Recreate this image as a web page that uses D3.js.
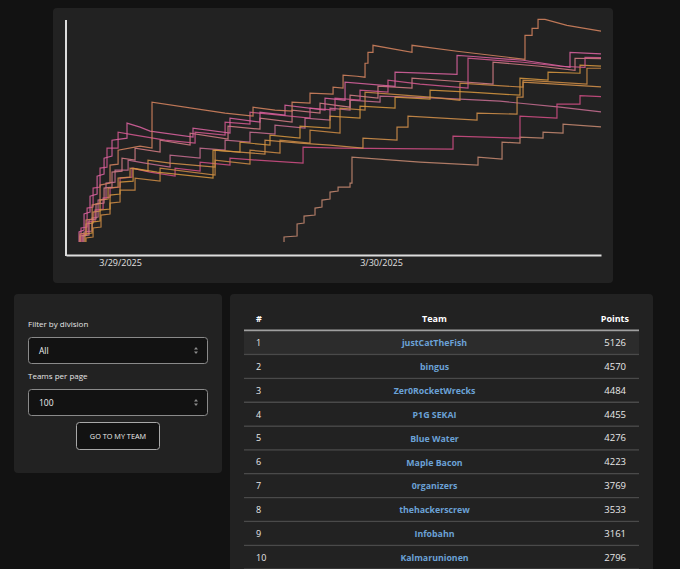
<!DOCTYPE html>
<html>
<head>
<meta charset="utf-8">
<script src="https://cdn.jsdelivr.net/npm/d3@7"></script>
<style>
  body { margin: 0; background: #121212; font-family: "Open Sans", sans-serif; }
  svg { display: block; }
</style>
</head>
<body>
<svg id="page" width="680" height="569"></svg>
<script>
// scoreboard data, hours are counted from 3/29 00:00, scores in points
var teams = ["justCatTheFish", "bingus", "Zer0RocketWrecks", "P1G SEKAI", "Blue Water",
  "Maple Bacon", "0rganizers", "thehackerscrew", "Infobahn", "Kalmarunionen"];
var points = [5126, 4570, 4484, 4455, 4276, 4223, 3769, 3533, 3161, 2796];
var teamColors = ["#d4835f", "#d8629e", "#d2588e", "#d27c84", "#d4953f",
  "#cb8a44", "#d28f4a", "#cf4d84", "#c46c8f", "#c4876f"];
var dayTicks = [0, 24];
var ctfStart = -4.97, ctfEnd = 44.23;

var jctf = [[-3.68,0],[-3.68,194],[-3.13,218],[-3.13,534],[-2.57,558],[-2.57,898],[-1.84,947],[-1.84,1383],
  [-0.92,1432],[-0.92,1869],[-0.18,1893],[-0.18,2233],[1.84,2330],[2.94,2281],[2.94,3398],[9.66,3131],
  [12.23,3058],[12.23,3276],[14.25,3204],[15.82,3180],[15.82,3398],[17.47,3374],[17.47,3616],[19.59,3592],
  [19.59,3762],[20.51,3738],[20.51,4053],[21.79,4029],[22.53,4005],[22.53,4344],[22.80,4344],[22.80,4611],
  [23.26,4611],[23.26,4781],[26.85,4611],[26.85,4781],[30.99,4636],[37.24,4441],[37.24,5024],[37.89,5024],
  [37.89,5194],[38.44,5194],[38.44,5412],[39.08,5412],[41.10,5266],[44.23,5126]];
var bingus = [[-3.77,0],[-3.77,243],[-3.31,291],[-3.31,680],[-2.76,728],[-2.76,1116],[-2.11,1165],[-2.11,1602],
  [-1.47,1650],[-1.47,2039],[-0.74,2087],[-0.74,2475],[0,2500],[0.64,2524],[0.64,2888],[1.84,2791],
  [2.76,2694],[6.71,2548],[6.71,2767],[10.11,2645],[10.11,3009],[12.87,2912],[12.87,3155],[15.17,3082],
  [15.17,3325],[18.85,3204],[18.85,3495],[20.69,3446],[20.69,3883],[25.29,3786],[25.29,4126],[30.99,4077],
  [30.99,4538],[32.18,4514],[37.06,4417],[41.38,4247],[41.38,4610],[44.23,4570]];
var zer0 = [[-3.59,0],[-3.59,340],[-3.03,364],[-3.03,825],[-2.48,849],[-2.48,1311],[-1.84,1335],[-1.84,1796],
  [-1.20,1820],[-1.20,2281],[-0.18,2281],[-0.18,2670],[1.38,2597],[4.14,2475],[6.90,2403],[6.90,2670],
  [9.66,2597],[9.66,2912],[11.95,2864],[11.95,3155],[17.47,3009],[17.47,3252],[19.77,3204],[19.77,3495],
  [22.07,3446],[22.07,3689],[24.64,3641],[24.64,3932],[27.59,3835],[32.00,3738],[32.00,4466],[37.06,4369],
  [40.46,4272],[42.76,4247],[42.76,4490],[44.23,4484]];
var p1g = [[-3.40,0],[-3.40,146],[-2.85,170],[-2.85,534],[-2.21,558],[-2.21,922],[-1.47,947],[-1.47,1311],
  [-0.74,1335],[-0.74,1699],[0.18,1723],[0.18,2039],[1.38,1990],[1.38,2281],[3.68,2184],[3.68,2475],
  [6.44,2354],[6.44,2645],[9.93,2500],[9.93,2815],[12.87,2742],[12.87,3009],[15.82,2912],[15.82,3204],
  [18.39,3131],[18.39,3374],[21.15,3276],[21.15,3568],[23.72,3495],[23.72,3786],[26.85,3738],[26.85,3980],
  [30.80,3907],[34.30,3835],[34.30,4369],[38.62,4272],[41.84,4174],[41.84,4466],[44.23,4455]];
var blueWater = [[-3.22,0],[-3.22,194],[-2.57,218],[-2.57,485],[-1.84,510],[-1.84,777],[-0.92,801],[-0.92,1141],
  [0,1165],[0,1456],[1.20,1480],[1.20,1796],[3.40,1699],[8.55,1553],[8.55,2233],[11.03,2184],
  [11.03,2427],[13.79,2354],[13.79,2597],[16.55,2524],[16.55,2815],[19.31,2767],[19.31,3058],[22.07,3009],
  [22.07,3301],[25.29,3252],[25.29,3519],[28.51,3471],[28.51,3689],[32.18,3641],[36.78,3568],[36.78,3980],
  [39.36,3932],[39.36,4126],[42.30,4102],[42.30,4296],[44.23,4276]];
var mapleBacon = [[-3.13,0],[-3.13,97],[-2.48,121],[-2.48,340],[-1.75,364],[-1.75,655],[-0.92,680],[-0.92,947],
  [0,971],[0,1262],[1.38,1262],[1.38,1553],[3.68,1481],[3.68,1796],[8.74,1626],[8.74,1990],
  [11.95,1893],[11.95,2233],[14.71,2160],[14.71,2475],[17.47,2403],[17.47,2718],[20.23,2645],[20.23,3252],
  [22.53,3204],[22.53,3641],[28.51,3519],[31.26,3446],[31.26,3859],[37.06,3762],[37.06,3932],[42.94,3835],
  [42.94,4223],[44.23,4223]];
var organizers = [[-3.68,0],[-3.68,146],[-3.13,170],[-3.13,437],[-2.48,461],[-2.48,728],[-1.84,752],[-1.84,1019],
  [-1.10,1044],[-1.10,1311],[-0.18,1335],[-0.18,1553],[0.92,1578],[0.92,1796],[2.57,1723],[2.57,1990],
  [4.60,1917],[8.74,1820],[8.74,2233],[11.03,2184],[13.33,2136],[13.33,2475],[16.55,2403],[19.31,2354],
  [22.34,2281],[22.34,2524],[25.47,2475],[25.47,2791],[26.48,2791],[26.48,3058],[32.83,2961],[32.83,3131],
  [36.51,3107],[36.51,3519],[37.06,3519],[37.06,3883],[44.23,3769]];
var hackersCrew = [[-3.49,0],[-3.49,170],[-2.94,194],[-2.94,485],[-2.30,510],[-2.30,777],[-1.56,801],[-1.56,1068],
  [-0.92,1092],[-0.92,1311],[0,1335],[0,1553],[1.10,1578],[1.10,1796],[2.76,1699],[5.06,1602],
  [5.06,1796],[7.36,1723],[7.36,1942],[10.11,1869],[10.11,2039],[12.60,1990],[16.83,1917],[16.83,2306],
  [20.23,2281],[30.62,2257],[30.62,2573],[36.78,2524],[36.78,3058],[40.18,3009],[40.18,3349],[42.30,3349],
  [42.30,3560],[44.23,3533]];
var infobahn = [[-3.31,0],[-3.31,243],[-2.57,267],[-2.57,582],[-2.02,607],[-2.02,1019],[-1.29,1044],[-1.29,1432],
  [-0.46,1456],[-0.46,1747],[0.74,1747],[0.74,1990],[2.30,1917],[4.60,1820],[4.60,2111],[7.36,2039],
  [7.36,2281],[9.66,2233],[9.66,2475],[11.95,2427],[11.95,2670],[14.25,2621],[14.25,2840],[17.01,2767],
  [17.01,3009],[19.31,2961],[19.31,3252],[21.15,3204],[21.15,3446],[23.91,3398],[23.91,3543],[29.43,3495],
  [34.94,3422],[40.46,3276],[44.23,3161]];
var kalmar = [[15.08,0],[15.08,121],[16.28,146],[16.28,437],[16.92,461],[16.92,631],[17.93,655],[17.93,825],
  [18.57,849],[18.57,1019],[19.31,1044],[19.31,1214],[20.05,1238],[20.05,1335],[21.15,1335],[21.15,1432],
  [21.33,1432],[21.33,2063],[27.59,1942],[32.92,1869],[32.92,2063],[35.13,2014],[35.13,2427],[36.78,2403],
  [36.78,2548],[38.90,2524],[38.90,2670],[40.74,2645],[40.74,2864],[44.23,2796]];
var series = [jctf, bingus, zer0, p1g, blueWater, mapleBacon, organizers, hackersCrew, infobahn, kalmar];

var divisions = ["All"];
var pageSizes = ["100"];

var svg = d3.select("#page");
var baseDay = new Date(2025, 2, 29);
function hour(h) { return new Date(baseDay.getTime() + h * 3600e3); }

// ---- graph card ----
svg.append("rect").attr("x", 53).attr("y", 8).attr("width", 560).attr("height", 275)
  .attr("rx", 4).attr("fill", "#222");

var x = d3.scaleTime().domain([hour(ctfStart), hour(ctfEnd)]).range([66, 601]);
var y = d3.scaleLinear().domain([0, 5420]).range([242, 19]);

var line = d3.line()
  .x(function (d) { return x(hour(d[0])); })
  .y(function (d) { return y(d[1]); });

var order = d3.range(series.length).reverse();
svg.append("g")
  .selectAll("path")
  .data(order)
  .enter()
  .append("path")
  .attr("d", function (i) { return line(series[i]); })
  .attr("fill", "none")
  .attr("stroke", function (i) { return teamColors[i]; })
  .attr("stroke-width", 1.2)
  .attr("stroke-opacity", 0.88);

var xAxis = svg.append("g")
  .attr("transform", "translate(0,255)")
  .call(d3.axisBottom(x)
    .tickValues(dayTicks.map(hour))
    .tickFormat(d3.timeFormat("%-m/%-d/%Y"))
    .tickSize(0)
    .tickPadding(5));
xAxis.select(".domain").attr("stroke", "#ddd").attr("stroke-width", 2);
xAxis.selectAll("text").attr("fill", "#e0e0e0").attr("font-size", "9px")
  .attr("font-family", "Open Sans, sans-serif");

svg.append("line")
  .attr("x1", 66).attr("x2", 66)
  .attr("y1", y(5420) + 1).attr("y2", 256)
  .attr("stroke", "#ddd").attr("stroke-width", 2);

// ---- filter card ----
svg.append("rect").attr("x", 14).attr("y", 294).attr("width", 208).attr("height", 179)
  .attr("rx", 4).attr("fill", "#222");

var controls = [
  { label: "Filter by division", value: divisions[0], top: 337 },
  { label: "Teams per page", value: pageSizes[0], top: 389 }
];
var ctl = svg.append("g").selectAll("g").data(controls).enter().append("g");
ctl.append("text")
  .attr("x", 28).attr("y", function (d) { return d.top - 10; })
  .attr("fill", "#e6e6e6").attr("font-size", "8px")
  .text(function (d) { return d.label; });
ctl.append("rect")
  .attr("x", 28.5).attr("y", function (d) { return d.top + 0.5; })
  .attr("width", 179).attr("height", 26).attr("rx", 3)
  .attr("fill", "#121212").attr("stroke", "#8a8a8a");
ctl.append("text")
  .attr("x", 39).attr("y", function (d) { return d.top + 16.5; })
  .attr("fill", "#eee").attr("font-size", "8.5px")
  .text(function (d) { return d.value; });
ctl.append("path")
  .attr("transform", function (d) { return "translate(196," + (d.top + 13.5) + ")"; })
  .attr("d", "M-2,-1L0,-3.5L2,-1ZM-2,1L0,3.5L2,1Z")
  .attr("fill", "#8c8c8c");

svg.append("rect").attr("x", 76.5).attr("y", 422.5).attr("width", 83).attr("height", 27)
  .attr("rx", 3).attr("fill", "#121212").attr("stroke", "#a8a8a8");
svg.append("text").attr("x", 118).attr("y", 438.8).attr("text-anchor", "middle")
  .attr("fill", "#eee").attr("font-size", "7.3px").text("GO TO MY TEAM");

// ---- scoreboard table ----
svg.append("rect").attr("x", 230).attr("y", 294).attr("width", 423).attr("height", 290)
  .attr("rx", 4).attr("fill", "#222");

var rowH = 23.85, tableTop = 330.5;
var header = svg.append("g").attr("font-size", "9px").attr("font-weight", "bold").attr("fill", "#fff");
header.append("text").attr("x", 256).attr("y", 322).text("#");
header.append("text").attr("x", 434.5).attr("y", 322).attr("text-anchor", "middle").text("Team");
header.append("text").attr("x", 629).attr("y", 322).attr("text-anchor", "end").text("Points");
svg.append("line").attr("x1", 244).attr("x2", 639).attr("y1", tableTop).attr("y2", tableTop)
  .attr("stroke", "#a0a0a0").attr("stroke-width", 2);

var rows = svg.append("g").selectAll("g")
  .data(teams)
  .enter()
  .append("g")
  .attr("transform", function (d, i) { return "translate(0," + (tableTop + 1 + i * rowH) + ")"; });
rows.append("rect")
  .attr("x", 244).attr("width", 395).attr("height", rowH - 1.5)
  .attr("fill", function (d, i) { return i === 0 ? "#2c2c2c" : "#222"; });
rows.append("line")
  .attr("x1", 244).attr("x2", 639).attr("y1", rowH - 0.75).attr("y2", rowH - 0.75)
  .attr("stroke", "#4a4a4a").attr("stroke-width", 1.5);
rows.append("text")
  .attr("x", 256).attr("y", 14.5)
  .attr("fill", "#e8e8e8").attr("font-size", "9px")
  .text(function (d, i) { return i + 1; });
rows.append("text")
  .attr("x", 434.5).attr("y", 14.8).attr("text-anchor", "middle")
  .attr("fill", "#6ba1d6").attr("font-size", "8.8px").attr("font-weight", "bold")
  .text(function (d) { return d; });
rows.append("text")
  .attr("x", 626).attr("y", 14.5).attr("text-anchor", "end")
  .attr("fill", "#e8e8e8").attr("font-size", "9.5px")
  .text(function (d, i) { return points[i]; });
</script>
</body>
</html>
